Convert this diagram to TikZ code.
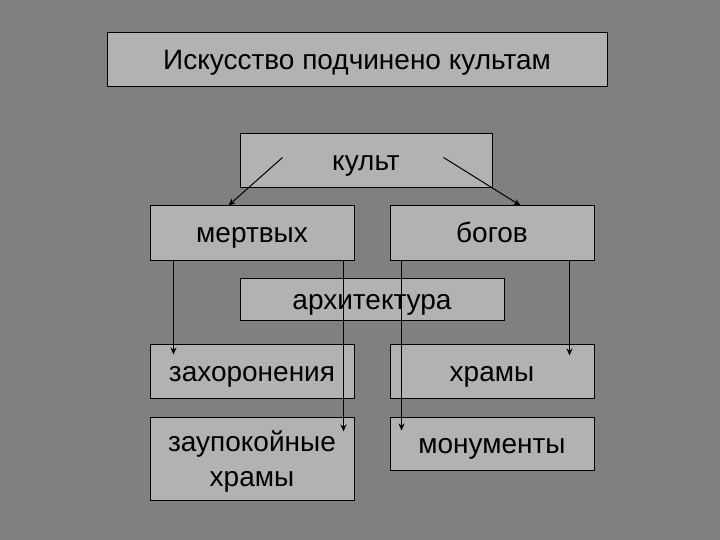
\documentclass[tikz,border=0pt]{standalone}
\usepackage{fontspec}
\setmainfont{Liberation Sans}
\usetikzlibrary{calc,arrows.meta}
\definecolor{bg}{HTML}{808080}
\definecolor{boxfill}{HTML}{B2B2B2}
\begin{document}
\begin{tikzpicture}[x=1pt,y=-1pt,
  box/.style={draw=black,line width=1pt,fill=boxfill,inner sep=0pt,font=\fontsize{28}{35}\selectfont,align=center,text height=25pt,text depth=5pt},
  conn/.style={line width=1.4pt,-{Stealth[length=7pt,width=6pt]}},
  diag/.style={line width=1pt,-{Stealth[length=7pt,width=6pt]}}]
\fill[bg] (0,0) rectangle (720,540);
\useasboundingbox (0,0) rectangle (720,540);
\node[box,minimum width=500pt,minimum height=54pt] (title) at (357,60) {Искусство подчинено культам};
\node[box,minimum width=252pt,minimum height=54pt] (kult) at (366,161) {культ};
\node[box,minimum width=204pt,minimum height=54pt] (mert) at (252,233) {мертвых};
\node[box,minimum width=204pt,minimum height=54pt] (bog) at (492,233) {богов};
\node[box,minimum width=264pt,minimum height=42pt] (arch) at (372,299) {архитектура};
\node[box,minimum width=204pt,minimum height=54pt] (zah) at (252,371) {захоронения};
\node[box,minimum width=204pt,minimum height=54pt] (hram) at (492,371) {храмы};
\node[box,minimum width=204pt,minimum height=83pt,text height=60pt] (zaup) at (252,458.5) {заупокойные\\храмы};
\node[box,minimum width=204pt,minimum height=53pt] (mon) at (492,443.5) {монументы};
% diagonal arrows
\coordinate (k1) at ($(kult.north west)+(43,24)$);
\coordinate (k2) at ($(kult.north west)+(204,24)$);
\draw[diag] (k1) -- ($(mert.north west)+(79,0)$);
\draw[diag] (k2) -- ($(bog.north west)+(131,0)$);
% vertical arrows
\draw[conn] ($(mert.south west)+(24,0)$) -- ($(zah.north west)+(24,11)$);
\draw[conn] ($(mert.south west)+(194,0)$) -- ($(zaup.north west)+(194,15)$);
\draw[conn] ($(bog.south west)+(12,0)$) -- ($(mon.north west)+(12,14)$);
\draw[conn] ($(bog.south west)+(180,0)$) -- ($(hram.north west)+(180,12)$);
\end{tikzpicture}
\end{document}
